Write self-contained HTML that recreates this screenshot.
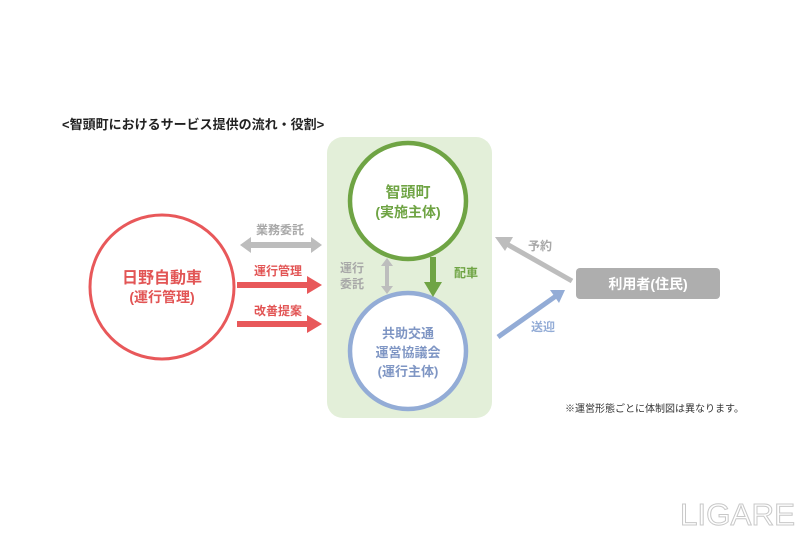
<!DOCTYPE html>
<html><head><meta charset="utf-8"><style>
body{margin:0;width:800px;height:532px;background:#fff;overflow:hidden;font-family:"Liberation Sans","Noto Sans CJK JP",sans-serif}
</style></head><body>
<svg width="800" height="532" xmlns="http://www.w3.org/2000/svg" style="font-family:'Liberation Sans','Noto Sans CJK JP',sans-serif;font-weight:bold">
<text x="62" y="129" font-size="13" fill="#222">&lt;智頭町におけるサービス提供の流れ・役割&gt;</text>
<rect x="327" y="137" width="165" height="281" rx="16" fill="#e3efd9"/>
<circle cx="408" cy="201" r="58" fill="#fff" stroke="#6fa444" stroke-width="4.5"/>
<text x="408" y="197" font-size="15" fill="#6fa444" text-anchor="middle">智頭町</text>
<text x="408" y="217" font-size="14" fill="#6fa444" text-anchor="middle">(実施主体)</text>
<circle cx="408" cy="351" r="58" fill="#fff" stroke="#93acd6" stroke-width="4.5"/>
<text x="408" y="338" font-size="13" fill="#7f96c4" text-anchor="middle">共助交通</text>
<text x="408" y="357" font-size="13" fill="#7f96c4" text-anchor="middle">運営協議会</text>
<text x="408" y="376" font-size="13" fill="#7f96c4" text-anchor="middle">(運行主体)</text>
<circle cx="162" cy="287" r="72" fill="#fff" stroke="#e8585a" stroke-width="3"/>
<text x="162" y="283" font-size="16" fill="#e25555" text-anchor="middle">日野自動車</text>
<text x="162" y="302" font-size="14" fill="#e25555" text-anchor="middle">(運行管理)</text>
<text x="280" y="234" font-size="12" fill="#a8a8a8" text-anchor="middle">業務委託</text>
<path d="M240,245 L251,237 L251,242 L311,242 L311,237 L322,245 L311,253 L311,248 L251,248 L251,253z" fill="#bdbdbd"/>
<text x="278" y="275" font-size="12" fill="#e25555" text-anchor="middle">運行管理</text>
<path d="M237,282 L307,282 L307,276 L322,285 L307,294 L307,288 L237,288z" fill="#e8585a"/>
<text x="278" y="315" font-size="12" fill="#e25555" text-anchor="middle">改善提案</text>
<path d="M237,321 L307,321 L307,315 L322,324 L307,333 L307,327 L237,327z" fill="#e8585a"/>
<text x="352" y="272" font-size="12" fill="#a8a8a8" text-anchor="middle">運行</text>
<text x="352" y="288" font-size="12" fill="#a8a8a8" text-anchor="middle">委託</text>
<path d="M387,258 L393,266 L389,266 L389,286 L393,286 L387,294 L381,286 L385,286 L385,266 L381,266z" fill="#bdbdbd"/>
<path d="M430,257 L436,257 L436,282 L442,282 L433,297 L424,282 L430,282z" fill="#6fa444"/>
<text x="466" y="277" font-size="12" fill="#6fa444" text-anchor="middle">配車</text>
<line x1="572" y1="281" x2="505" y2="243" stroke="#bdbdbd" stroke-width="5"/>
<path d="M495,237 L513,237 L505,251z" fill="#bdbdbd"/>
<text x="540" y="250" font-size="12" fill="#a8a8a8" text-anchor="middle">予約</text>
<line x1="498" y1="337" x2="556" y2="296" stroke="#93acd6" stroke-width="5"/>
<path d="M565,290 L550,290 L559,303z" fill="#93acd6"/>
<text x="543" y="331" font-size="12" fill="#93acd6" text-anchor="middle">送迎</text>
<rect x="576" y="268" width="144" height="31" rx="4" fill="#aeaeae"/>
<text x="648" y="289" font-size="14" fill="#fff" text-anchor="middle">利用者(住民)</text>
<text x="565" y="412" font-size="10" font-weight="normal" fill="#333">※運営形態ごとに体制図は異なります。</text>
<text x="680" y="525" font-size="31" font-weight="normal" fill="#fff" stroke="#c8c8c8" stroke-width="1" textLength="115" lengthAdjust="spacingAndGlyphs">LIGARE</text>
</svg>
</body></html>
